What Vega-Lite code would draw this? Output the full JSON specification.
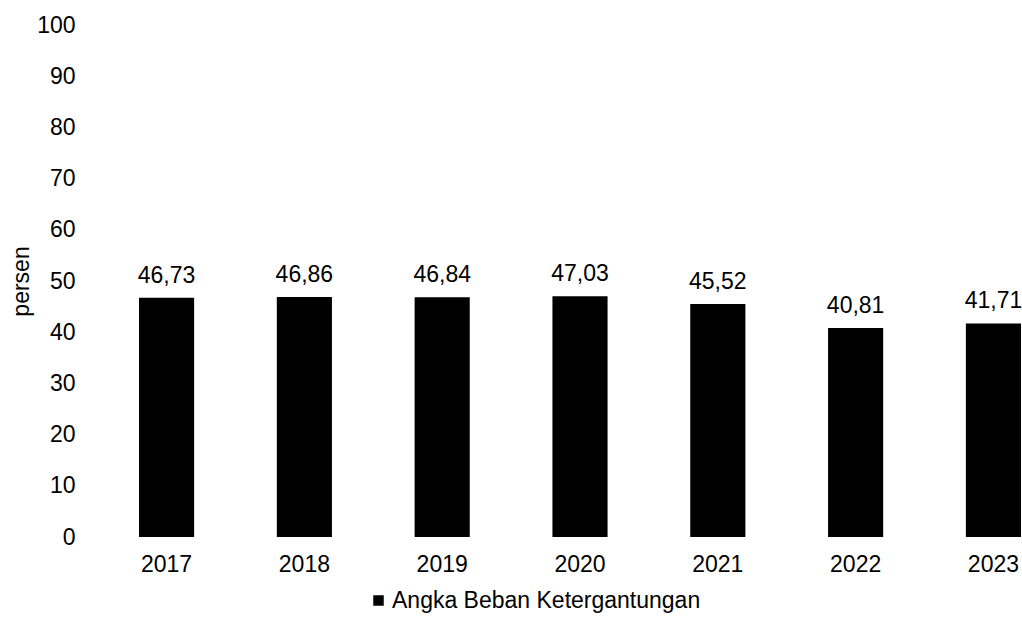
{
  "$schema": "https://vega.github.io/schema/vega-lite/v6.json",
  "autosize": "none",
  "padding": {"left": 139, "top": 25, "right": 1, "bottom": 88},
  "width": 882,
  "height": 512,
  "background": "white",
  "config": {
    "view": {"stroke": null},
    "font": "Liberation Sans",
    "locale": {"number": {"decimal": ",", "thousands": ".", "grouping": [3], "currency": ["Rp", ""]}}
  },
  "data": {
    "values": [
      {"tahun": "2017", "nilai": 46.73, "seri": "Angka Beban Ketergantungan"},
      {"tahun": "2018", "nilai": 46.86, "seri": "Angka Beban Ketergantungan"},
      {"tahun": "2019", "nilai": 46.84, "seri": "Angka Beban Ketergantungan"},
      {"tahun": "2020", "nilai": 47.03, "seri": "Angka Beban Ketergantungan"},
      {"tahun": "2021", "nilai": 45.52, "seri": "Angka Beban Ketergantungan"},
      {"tahun": "2022", "nilai": 40.81, "seri": "Angka Beban Ketergantungan"},
      {"tahun": "2023", "nilai": 41.71, "seri": "Angka Beban Ketergantungan"}
    ]
  },
  "encoding": {
    "x": {
      "field": "tahun", "type": "ordinal",
      "scale": {"paddingInner": 0.6, "paddingOuter": 0},
      "axis": {"title": null, "domain": false, "ticks": false, "tickSize": 0, "labelAngle": 0,
               "labelFontSize": 23, "labelColor": "#000", "labelPadding": 16, "labelFont": "Liberation Sans"}
    },
    "y": {
      "field": "nilai", "type": "quantitative",
      "scale": {"domain": [0, 100], "nice": false},
      "axis": {"title": "persen", "values": [0,10,20,30,40,50,60,70,80,90,100], "grid": false, "domain": false,
               "ticks": false, "tickSize": 0, "labelPadding": 64, "labelFontSize": 23, "labelColor": "#000",
               "labelFont": "Liberation Sans",
               "titleFontSize": 23, "titleFontWeight": "normal", "titleColor": "#000", "titleFont": "Liberation Sans",
               "titleX": -111, "titleY": 256, "titleAngle": -90, "titleBaseline": "alphabetic", "titleAlign": "center"}
    }
  },
  "layer": [
    {
      "mark": {"type": "bar"},
      "encoding": {
        "color": {
          "field": "seri", "type": "nominal",
          "scale": {"range": ["#000000"]},
          "legend": {"title": null, "orient": "none", "legendX": 228, "legendY": 564,
                     "symbolType": "square", "symbolSize": 110, "labelFontSize": 23, "labelColor": "#000",
                     "labelFont": "Liberation Sans", "labelOffset": 2, "labelLimit": 0}
        }
      }
    },
    {
      "mark": {"type": "text", "baseline": "alphabetic", "dy": -15, "fontSize": 23, "color": "#000", "font": "Liberation Sans"},
      "encoding": {"text": {"field": "nilai", "type": "quantitative", "format": ".2f"}}
    }
  ]
}
